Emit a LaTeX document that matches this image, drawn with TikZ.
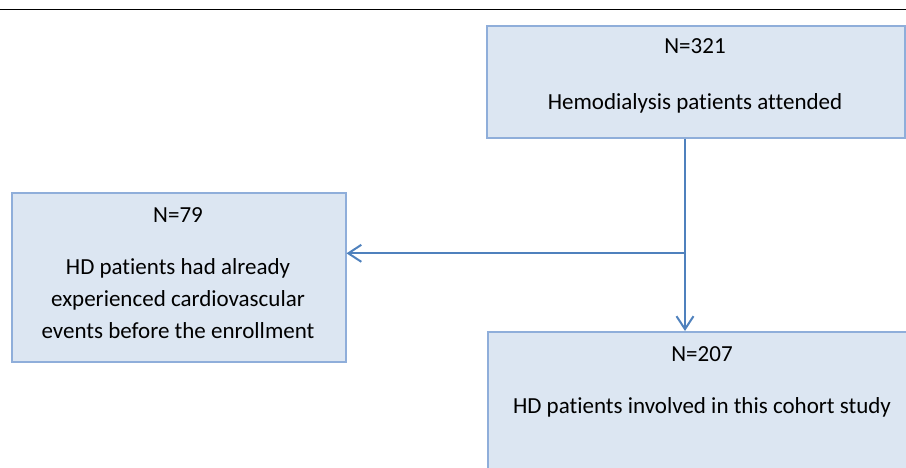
\documentclass[tikz,border=0pt]{standalone}
\usepackage{xcolor}
\usepackage{fontspec}
\setmainfont{Carlito}[Ligatures=NoCommon]
\usepackage{tikz}
\usetikzlibrary{arrows.meta,calc}

\definecolor{boxfill}{HTML}{DCE6F2}
\definecolor{boxline}{HTML}{8FAEDA}
\definecolor{flowline}{HTML}{4F81BD}

\begin{document}
\begin{tikzpicture}[x=1pt,y=-1pt]
        % Define the styles for the boxes, texts and connectors
        \tikzstyle{stagebox}=[draw=boxline, fill=boxfill, line width=1.5pt, rectangle, anchor=north west, inner sep=0pt];
        \tikzstyle{stagetext}=[anchor=base, inner sep=0pt, font=\fontsize{23}{32}\selectfont, align=center];
        \tikzstyle{flow}=[draw=flowline, line width=2pt];

        % Fix the page size
        \useasboundingbox (0,0) rectangle (906,467);

        % Rule across the top
        \draw[line width=1.8pt] (0,9.5) -- (906,9.5);

        % Draw the three boxes
        \node[stagebox, minimum width=418pt, minimum height=112pt] (attended) at (486,25) {};
        \node[stagebox, minimum width=334pt, minimum height=169pt] (excluded) at (11,192) {};
        \node[stagebox, minimum width=432pt, minimum height=160pt] (cohort) at (487,331) {};

        % Texts inside the boxes
        \node[stagetext] (n321) at (695,53) {N=321};
        \node[stagetext] (attendedtext) at (695,109) {Hemodialysis patients attended};
        \node[stagetext] (n79) at (178,222) {N=79};
        \node[stagetext, anchor=north] (excludedtext) at (178,258) {HD patients had already\\experienced cardiovascular\\events before the enrollment};
        \node[stagetext] (n207) at (702,361) {N=207};
        \node[stagetext] (cohorttext) at (702,413) {HD patients involved in this cohort study};

        % Split point of the flow
        \coordinate (split) at (685,253.3);

        % Connectors
        \draw[flow, -{Straight Barb[length=13pt, width=17pt]}] (split |- attended.south) -- (split |- cohort.north);
        \draw[flow, -{Straight Barb[length=13pt, width=17pt]}] (split) -- (split -| excluded.east);
    \end{tikzpicture}
\end{document}
